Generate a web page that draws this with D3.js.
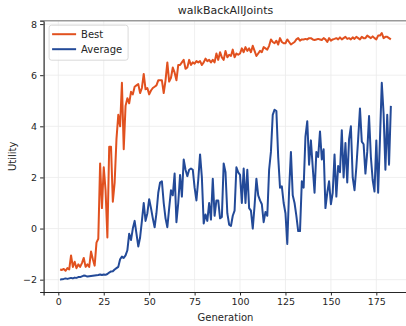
<!DOCTYPE html>
<html>
<head>
<meta charset="utf-8">
<script src="https://cdn.jsdelivr.net/npm/d3@7"></script>
<style>
	html, body { margin: 0; padding: 0; background: #fff; }
	svg text { font-family: "DejaVu Sans", sans-serif; fill: #262626; }
	.grid line { stroke: #ebebeb; stroke-width: 0.8; }
	.axis path, .axis line { stroke: #262626; }
</style>
</head>
<body>
<div id="chart"></div>
<script>
const title = 'walkBackAllJoints';
const seriesNames = ['Best', 'Average'];
const seriesColors = ['#e1511f', '#234a98'];
const xTicks = [0, 25, 50, 75, 100, 125, 150, 175];
const yTicks = [-2, 0, 2, 4, 6, 8];

// gen 1 ~ 183
const best = [
	-1.6, -1.62, -1.58, -1.65, -1.55, -1.6, -1.05, -1.5, -1.3, -1.55,
	-1.4, -1.5, -1.35, -1.15, -1.5, -1.4, -1.5, -0.9, -1.2, -1.45,
	-0.55, -0.4, 2.55, 0.8, 2.4, 1.5, -0.35, 3.2, 3.2, 1.05,
	1.8, 3.5, 4.45, 4.0, 5.7, 3.1, 4.8, 5.1, 4.9, 5.35,
	5.25, 5.55, 5.6, 5.65, 5.3, 5.5, 6.05, 5.45, 5.5, 5.25,
	5.4, 5.5, 5.55, 5.6, 5.8, 5.8, 5.8, 5.3, 5.8, 6.5,
	5.75, 5.9, 6.3, 6.1, 5.8, 6.4, 6.4, 6.5, 6.6, 6.25,
	6.3, 6.6, 6.4, 6.5, 6.45, 6.55, 6.5, 6.55, 6.4, 6.5,
	6.65, 6.55, 6.6, 6.5, 6.6, 6.5, 6.85, 6.6, 6.9, 6.7,
	6.6, 6.95, 6.7, 6.8, 6.75, 7.0, 6.7, 6.85, 6.8, 6.85,
	7.05, 6.9, 7.1, 6.95, 7.05, 6.9, 7.15, 6.95, 6.75, 6.85,
	6.95, 6.9, 7.1, 7.05, 7.0, 7.15, 7.4, 7.3, 7.25, 7.35,
	7.2, 7.45, 7.3, 7.25, 7.25, 7.4, 7.3, 7.2, 7.25, 7.3,
	7.4, 7.45, 7.35, 7.4, 7.4, 7.42, 7.4, 7.45, 7.45, 7.4,
	7.38, 7.4, 7.42, 7.4, 7.38, 7.45, 7.4, 7.3, 7.45, 7.35,
	7.4, 7.42, 7.45, 7.4, 7.48, 7.4, 7.45, 7.5, 7.42, 7.45,
	7.4, 7.48, 7.42, 7.5, 7.45, 7.4, 7.5, 7.45, 7.45, 7.55,
	7.5, 7.45, 7.52, 7.45, 7.4, 7.55, 7.55, 7.65, 7.45, 7.5,
	7.5, 7.45, 7.4
];
const average = [
	-2.0, -1.98, -1.97, -1.95, -1.97, -1.95, -1.93, -1.95, -1.92, -1.93,
	-1.9, -1.9, -1.87, -1.84, -1.85, -1.88, -1.87, -1.86, -1.85, -1.84,
	-1.83, -1.82, -1.8, -1.82, -1.8, -1.81, -1.78, -1.72, -1.68, -1.67,
	-1.6, -1.55, -1.5, -1.2, -1.1, -1.15, -1.05, -0.85, -0.2, -0.45,
	0.0, 0.3, -0.2, -0.7, -0.35, 0.3, 1.0, 0.3, 0.6, 1.15,
	0.8, 0.4, 0.05, 0.6, 1.4, 1.8, 1.85, 1.0, 0.4, 0.05,
	0.8, 1.5, 1.3, 2.15, 0.25, 1.0, 2.1, 1.25, 2.7, 2.3,
	2.05, 2.3, 2.35, 2.3, 1.6, 1.1, 1.9, 2.9, 2.0, 0.2,
	0.55, 0.3, 1.0, 0.35, 1.95, 0.5, 1.1, 1.1, 0.4, 0.45,
	2.55, 2.2, 0.6, 0.15, 0.1, 0.5, 0.7, 2.4, 2.2, 2.1,
	1.0, 2.35, 1.0, 2.3, 0.8, 0.7, 0.0, 0.9, 1.95, 1.3,
	1.1, 0.95, 0.25, 0.65, 0.5, 2.3, 3.0, 4.45, 4.65, 4.6,
	2.8, 1.6, 1.65, 1.0, 0.6, -0.6, 1.5, 3.0, 1.3, 1.0,
	0.5, -0.1, -0.1, 1.85, 1.6, 3.6, 4.2, 2.5, 3.45, 2.4,
	1.4, 3.0, 2.8, 3.8, 2.7, 3.1, 0.8, 1.4, 1.85, 0.95,
	1.4, 2.9, 1.25, 2.45, 2.2, 3.85, 2.0, 3.35, 1.8, 3.5,
	4.0, 2.0, 1.5, 2.4, 3.5, 4.7, 3.4, 3.3, 2.15, 3.0,
	4.4, 2.8, 1.9, 1.45, 3.45, 1.4, 3.5, 5.7, 4.5, 2.3,
	4.45, 2.5, 4.8
];

const options = {
	w: 406,
	h: 326,
	mTop: 20.7,
	mLeft: 43.6,
	plotW: 363.8,
	plotH: 271.3,
	lineW: 2
};

const series = [best, average].map((vals, i) => ({
	name: seriesNames[i],
	color: seriesColors[i],
	values: vals.map((v, j) => ({ x: j + 1, y: v }))
}));

// matplotlib 식 5% 여백
const pad = ([a, b]) => [a - (b - a) * 0.05, b + (b - a) * 0.05];
const allPts = series.flatMap(s => s.values);

const x = d3.scaleLinear()
	.domain(pad(d3.extent(allPts, d => d.x)))
	.range([0, options.plotW]);
const y = d3.scaleLinear()
	.domain(pad(d3.extent(allPts, d => d.y)))
	.range([options.plotH, 0]);

const svg = d3.select('#chart').append('svg')
	.attr('width', options.w)
	.attr('height', options.h);

const g = svg.append('g')
	.attr('transform', `translate(${options.mLeft},${options.mTop})`);

// grid
const grid = g.append('g').classed('grid', true);
grid.selectAll('.gx').data(xTicks).enter().append('line')
	.attr('x1', d => x(d)).attr('x2', d => x(d))
	.attr('y1', 0).attr('y2', options.plotH);
grid.selectAll('.gy').data(yTicks).enter().append('line')
	.attr('x1', 0).attr('x2', options.plotW)
	.attr('y1', d => y(d)).attr('y2', d => y(d));

// lines
const line = d3.line()
	.x(d => x(d.x))
	.y(d => y(d.y));

g.append('g').selectAll('path')
	.data(series)
	.enter()
	.append('path')
	.attr('d', d => line(d.values))
	.attr('fill', 'none')
	.attr('stroke', d => d.color)
	.attr('stroke-width', options.lineW)
	.attr('stroke-linejoin', 'round');

// axes
const fmt = d => d < 0 ? '\u2212' + Math.abs(d) : String(d);
const xAxis = d3.axisBottom(x).tickValues(xTicks).tickFormat(fmt).tickSize(3.5).tickPadding(3);
const yAxis = d3.axisLeft(y).tickValues(yTicks).tickFormat(fmt).tickSize(3.5).tickPadding(3);

g.append('g')
	.classed('axis', true)
	.attr('transform', `translate(0,${options.plotH})`)
	.call(xAxis)
	.call(a => a.select('.domain').attr('stroke-width', 1.2))
	.selectAll('text').style('font-size', '9.5px');

g.append('g')
	.classed('axis', true)
	.call(yAxis)
	.call(a => a.select('.domain').attr('stroke-width', 1.2))
	.selectAll('text').style('font-size', '9.5px');

// top spine
g.append('line')
	.attr('x1', 0).attr('x2', options.plotW)
	.attr('y1', 0).attr('y2', 0)
	.attr('stroke', '#9a9a9a')
	.attr('stroke-width', 1.5);

// labels
svg.append('text')
	.attr('x', options.mLeft + options.plotW / 2)
	.attr('y', 14)
	.attr('text-anchor', 'middle')
	.style('font-size', '11px')
	.text(title);

svg.append('text')
	.attr('x', options.mLeft + options.plotW / 2)
	.attr('y', 321)
	.attr('text-anchor', 'middle')
	.style('font-size', '10px')
	.text('Generation');

svg.append('text')
	.attr('transform', `translate(16,${options.mTop + options.plotH / 2}) rotate(-90)`)
	.attr('text-anchor', 'middle')
	.style('font-size', '10px')
	.text('Utility');

// legend
const legend = g.append('g').attr('transform', 'translate(5.5,4.5)');
legend.append('rect')
	.attr('width', 79).attr('height', 35)
	.attr('rx', 2.5)
	.attr('fill', '#fff').attr('fill-opacity', 0.8)
	.attr('stroke', '#d0d0d0').attr('stroke-width', 0.8);

const item = legend.selectAll('.item')
	.data(series)
	.enter()
	.append('g')
	.attr('transform', (d, i) => `translate(0,${9 + i * 15})`);
item.append('line')
	.attr('x1', 3).attr('x2', 27)
	.attr('stroke', d => d.color)
	.attr('stroke-width', options.lineW);
item.append('text')
	.attr('x', 32).attr('dy', '0.35em')
	.style('font-size', '10px')
	.text(d => d.name);
</script>
</body>
</html>
